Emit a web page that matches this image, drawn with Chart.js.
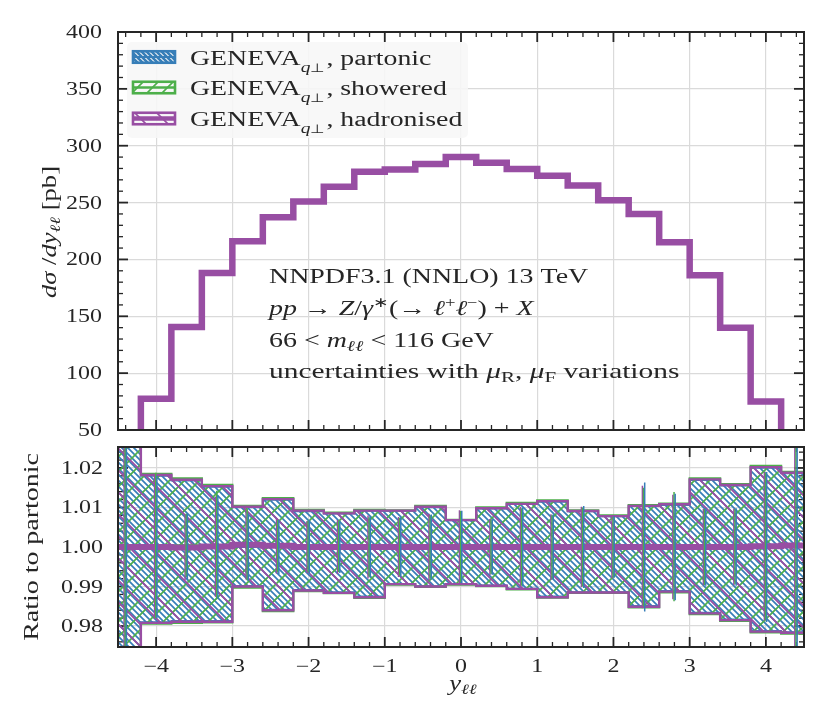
<!DOCTYPE html>
<html><head><meta charset="utf-8">
<script src="https://cdn.jsdelivr.net/npm/chart.js@4.4.1/dist/chart.umd.min.js"></script>
<style>
html,body{margin:0;padding:0;background:#fff;}
#wrap{position:relative;width:830px;height:720px;overflow:hidden;}
#top{position:absolute;left:0;top:0;width:830px;height:440px;}
#bot{position:absolute;left:0;top:440px;width:830px;height:280px;}
</style></head><body>
<div id="wrap"><div id="top"><canvas id="c1"></canvas></div><div id="bot"><canvas id="c2"></canvas></div></div>
<script>
// ---------------- data ----------------
const binEdges = [-4.6,-4.2,-3.8,-3.4,-3.0,-2.6,-2.2,-1.8,-1.4,-1.0,-0.6,-0.2,0.2,0.6,1.0,1.4,1.8,2.2,2.6,3.0,3.4,3.8,4.2,4.6];
const xTickValues = [-4,-3,-2,-1,0,1,2,3,4];
const xTickLabels = ['\u22124','\u22123','\u22122','\u22121','0','1','2','3','4'];
const yTopTicks = [50,100,150,200,250,300,350,400];
const yTopLabels = ['50','100','150','200','250','300','350','400'];
const yRatioTicks = [0.98,0.99,1.00,1.01,1.02];
const yRatioLabels = ['0.98','0.99','1.00','1.01','1.02'];
const seriesNames = ['partonic','showered','hadronised'];

// d sigma / dy [pb]
const partonicXS   = [10,77.5,141.5,188,216.5,237.5,251,264,277,279,284,290,285,279.5,273.5,265,252,241,216,186,140.5,75,10];
const showeredXS   = [10,77.5,142,188,216,237,251,264,277,279,284,290,285,279.5,273.5,265,252,240.5,215.5,186,140,75,10];
const hadronisedXS = [10,77.5,140.5,188,216,237,251,264,277,279,284,290,285,279.5,273.5,265,252,240,215,186,140,75,10];

// ratio to partonic: scale-variation envelopes
const partonicUp   = [1.040,1.0180,1.0168,1.0152,1.0100,1.0119,1.0090,1.0084,1.0091,1.0091,1.0100,1.0067,1.0097,1.0108,1.0114,1.0090,1.0077,1.0103,1.0106,1.0169,1.0155,1.0200,1.0186];
const partonicDn   = [0.960,0.9810,0.9813,0.9813,0.9902,0.9842,0.9892,0.9886,0.9875,0.9907,0.9901,0.9907,0.9903,0.9895,0.9875,0.9886,0.9886,0.9851,0.9889,0.9834,0.9817,0.9788,0.9785];
const showeredUp   = [1.040,1.0185,1.0174,1.0157,1.0104,1.0124,1.0094,1.0087,1.0094,1.0093,1.0104,1.0069,1.0100,1.0112,1.0118,1.0093,1.0080,1.0106,1.0110,1.0174,1.0159,1.0205,1.0190];
const showeredDn   = [0.960,0.9806,0.9808,0.9809,0.9897,0.9838,0.9888,0.9883,0.9871,0.9905,0.9899,0.9905,0.9901,0.9893,0.9872,0.9884,0.9884,0.9847,0.9885,0.9830,0.9813,0.9784,0.9781];
const hadronisedUp = [1.040,1.0182,1.0170,1.0154,1.0102,1.0121,1.0092,1.0085,1.0092,1.0092,1.0102,1.0068,1.0098,1.0109,1.0116,1.0091,1.0078,1.0104,1.0108,1.0171,1.0157,1.0202,1.0188];
const hadronisedDn = [0.960,0.9808,0.9811,0.9811,0.9900,0.9840,0.9890,0.9884,0.9873,0.9906,0.9900,0.9906,0.9902,0.9894,0.9873,0.9885,0.9885,0.9849,0.9887,0.9832,0.9815,0.9786,0.9783];

// central ratios
const partonicRatio   = [1,1,1,1,1,1,1,1,1,1,1,1,1,1,1,1,1,1,1,1,1,1,1];
const showeredRatio   = [1.0000,1.0004,1.0004,1.0005,1.0006,1.0002,1.0001,1.0001,1.0000,1.0001,1.0000,1.0001,1.0000,1.0000,1.0001,1.0000,1.0000,1.0000,1.0001,1.0000,1.0001,1.0002,1.0003];
const hadronisedRatio = [1.0000,1.0000,0.9999,1.0001,1.0006,1.0003,1.0000,1.0000,1.0000,1.0000,1.0000,1.0000,1.0000,1.0000,1.0000,1.0000,1.0000,1.0000,1.0000,1.0000,1.0000,1.0002,1.0004];

// statistical half-errors on the ratio
const partonicErr   = [0.03,0.0180,0.0085,0.0130,0.0085,0.0068,0.0068,0.0066,0.0078,0.0075,0.0082,0.0092,0.0070,0.0100,0.0082,0.0104,0.0078,0.0163,0.0135,0.0098,0.0098,0.0190,0.03];
const showeredErr   = [0.03,0.0184,0.0080,0.0137,0.0090,0.0066,0.0065,0.0064,0.0075,0.0073,0.0080,0.0090,0.0068,0.0098,0.0080,0.0100,0.0076,0.0150,0.0138,0.0096,0.0095,0.0186,0.03];
const hadronisedErr = [0.03,0.0182,0.0083,0.0127,0.0088,0.0070,0.0066,0.0068,0.0080,0.0076,0.0084,0.0093,0.0071,0.0102,0.0083,0.0102,0.0079,0.0155,0.0132,0.0097,0.0097,0.0188,0.03];

// ---------------- style ----------------
const C_BLUE = '#377eb8', C_GREEN = '#4daf4a', C_PURPLE = '#984ea3';
const INK = '#262626', GRID = '#dadada';
const SX = 1.33;
const SERIF = '"Liberation Serif","Times New Roman",serif';
function F(size, it){ return (it ? 'italic ' : '') + size + 'px ' + SERIF; }
function P(t, size, it, dy){ return {t:t, f:F(size,it), dy:dy||0}; }

function drawParts(ctx, parts, x, y, align, rotate, sx){
  ctx.save();
  ctx.translate(x, y);
  if (rotate) ctx.rotate(-Math.PI/2);
  ctx.scale(sx || SX, 1);
  ctx.textBaseline = 'alphabetic'; ctx.textAlign = 'left'; ctx.fillStyle = INK;
  let w = 0;
  for (const p of parts){ ctx.font = p.f; p.w = ctx.measureText(p.t).width; w += p.w; }
  let cx = align === 'right' ? -w : (align === 'center' ? -w/2 : 0);
  for (const p of parts){ ctx.font = p.f; ctx.fillText(p.t, cx, p.dy); cx += p.w; }
  ctx.restore();
}

function makeHatch(ctx, color, s, dir, lw){
  const c = document.createElement('canvas'); c.width = s; c.height = s;
  const g = c.getContext('2d'); g.strokeStyle = color; g.lineWidth = lw;
  g.beginPath();
  if (dir === '/'){
    g.moveTo(-2, s+2); g.lineTo(s+2, -2);
    g.moveTo(-2, 2); g.lineTo(2, -2);
    g.moveTo(s-2, s+2); g.lineTo(s+2, s-2);
  } else {
    g.moveTo(-2, -2); g.lineTo(s+2, s+2);
    g.moveTo(s-2, -2); g.lineTo(s+2, 2);
    g.moveTo(-2, s-2); g.lineTo(2, s+2);
  }
  g.stroke();
  return ctx.createPattern(c, 'repeat');
}

function stepPoints(vals){
  const pts = vals.map((v,i) => ({x: binEdges[i], y: v}));
  pts.push({x: binEdges[binEdges.length-1], y: vals[vals.length-1]});
  return pts;
}
function errPoints(center, err, off){
  const pts = [];
  for (let i = 0; i < center.length; i++){
    const xc = (binEdges[i] + binEdges[i+1]) / 2 + off;
    pts.push({x: xc, y: center[i] - err[i]}, {x: xc, y: center[i] + err[i]}, {x: xc, y: null});
  }
  return pts;
}

function drawTicksFrame(chart, yMajor, yMinorStep, yMin, yMax, phase){
  const {ctx, chartArea:a, scales:{x, y}} = chart;
  ctx.save();
  if (phase === 'ticks'){
    ctx.strokeStyle = INK;
    const seg = (x1,y1,x2,y2,w)=>{ ctx.lineWidth = w; ctx.beginPath(); ctx.moveTo(x1,y1); ctx.lineTo(x2,y2); ctx.stroke(); };
    for (let k = -22; k <= 22; k++){
      const v = k * 0.2; if (v < -4.5 || v > 4.5) continue;
      const major = (k % 5 === 0);
      const px = x.getPixelForValue(v), L = major ? 10 : 5, w = major ? 1.8 : 1.3;
      seg(px, a.bottom, px, a.bottom - L, w); seg(px, a.top, px, a.top + L, w);
    }
    const n = Math.round((yMax - yMin) / yMinorStep);
    for (let k = 0; k <= n; k++){
      const v = yMin + k * yMinorStep;
      const major = yMajor.some(m => Math.abs(m - v) < yMinorStep * 0.01);
      const py = y.getPixelForValue(v), L = major ? 10 : 5, w = major ? 1.8 : 1.3;
      seg(a.left, py, a.left + L, py, w); seg(a.right, py, a.right - L, py, w);
    }
  } else {
    ctx.strokeStyle = INK; ctx.lineWidth = 2;
    ctx.strokeRect(a.left, a.top, a.right - a.left, a.bottom - a.top);
  }
  ctx.restore();
}

function baseOptions(ymin, ymax, yTicks, pad){
  return {
    responsive: true, maintainAspectRatio: false, animation: false, events: [],
    layout: {padding: pad, autoPadding: false},
    plugins: {legend: {display: false}, tooltip: {enabled: false}},
    elements: {point: {radius: 0, hoverRadius: 0}, line: {tension: 0, borderJoinStyle: 'miter', borderCapStyle: 'butt'}},
    scales: {
      x: {type: 'linear', min: -4.5, max: 4.5,
          afterBuildTicks: s => { s.ticks = xTickValues.map(v => ({value: v})); },
          afterFit: s => { s.height = 0; },
          ticks: {display: false}, grid: {color: GRID, lineWidth: 1.2, drawTicks: false}, border: {display: false}},
      y: {type: 'linear', min: ymin, max: ymax,
          afterBuildTicks: s => { s.ticks = yTicks.map(v => ({value: v})); },
          afterFit: s => { s.width = 0; },
          ticks: {display: false}, grid: {color: GRID, lineWidth: 1.2, drawTicks: false}, border: {display: false}}
    }
  };
}

// ---------------- top panel ----------------
const ctx1 = document.getElementById('c1').getContext('2d');
const legBlue = makeHatch(ctx1, C_BLUE, 5, '\\', 2.6);
const legGreen = makeHatch(ctx1, C_GREEN, 15, '/', 1.6);
const legPurple = makeHatch(ctx1, C_PURPLE, 22, '\\', 1.6);

const topPlugin = {
  id: 'topDeco',
  beforeDatasetsDraw(chart){ drawTicksFrame(chart, yTopTicks, 10, 50, 400, 'ticks'); },
  afterDatasetsDraw(chart){ drawTicksFrame(chart, yTopTicks, 10, 50, 400, 'frame'); },
  afterDraw(chart){
    const {ctx, scales:{y}} = chart;
    yTopTicks.forEach((v,i) => drawParts(ctx, [P(yTopLabels[i], 18)], 102, y.getPixelForValue(v) + 6, 'right'));
    drawParts(ctx, [P('d\u03c3', 20, true), P(' /', 20), P('dy', 20, true), P('\u2113\u2113', 14, true, 4), P(' [pb]', 20)], 56, 232, 'center', true);
    // annotation
    const ax = 269;
    drawParts(ctx, [P('NNPDF3.1 (NNLO) 13 TeV', 21)], ax, 283);
    drawParts(ctx, [P('pp', 21, true), P(' \u2192 ', 21), P('Z', 21, true), P('/', 21), P('\u03b3', 21, true), P('\u2217', 14, false, -8),
                    P('(\u2192 ', 21), P('\u2113', 21, true), P('+', 14, false, -8), P('\u2113', 21, true), P('\u2212', 14, false, -8), P(') + ', 21), P('X', 21, true)], ax, 315);
    drawParts(ctx, [P('66 < ', 21), P('m', 21, true), P('\u2113\u2113', 15, true, 4), P(' < 116 GeV', 21)], ax, 347);
    drawParts(ctx, [P('uncertainties with ', 21), P('\u03bc', 21, true), P('R', 15, false, 4), P(', ', 21), P('\u03bc', 21, true), P('F', 15, false, 4), P(' variations', 21)], ax, 378, 'left', false, 1.4);
    // legend
    ctx.save();
    ctx.fillStyle = 'rgba(247,247,247,0.88)';
    ctx.beginPath(); ctx.roundRect(127, 42, 341, 96, 5); ctx.fill();
    ctx.restore();
    const rows = [
      {c: C_BLUE, p: legBlue, lw: 2, y: 57, name: seriesNames[0]},
      {c: C_GREEN, p: legGreen, lw: 2.5, y: 87.5, name: seriesNames[1]},
      {c: C_PURPLE, p: legPurple, lw: 4.5, y: 118.5, name: seriesNames[2]}
    ];
    rows.forEach(r => {
      ctx.save();
      const x0 = 133, w = 42, h = 11.5, y0 = r.y - h/2;
      ctx.fillStyle = r.p; ctx.fillRect(x0, y0, w, h);
      ctx.strokeStyle = r.c; ctx.lineWidth = 2.6; ctx.strokeRect(x0, y0, w, h);
      ctx.lineWidth = r.lw; ctx.beginPath(); ctx.moveTo(x0, r.y); ctx.lineTo(x0 + w, r.y); ctx.stroke();
      ctx.restore();
      drawParts(ctx, [P('GENEVA', 20), P('q', 14, true, 7), P('\u22a5', 12, false, 7), P(' ', 6), P(', ' + r.name, 20)], 190, r.y + 7.5, 'left', false, 1.39);
    });
  }
};

const topLine = (vals, color, w) => ({data: stepPoints(vals), borderColor: color, borderWidth: w, stepped: true, fill: false, clip: 0, pointRadius: 0});
new Chart(ctx1, {
  type: 'line',
  data: {datasets: [topLine(hadronisedXS, C_PURPLE, 6.5), topLine(showeredXS, C_GREEN, 3), topLine(partonicXS, C_BLUE, 3)]},
  options: baseOptions(50, 400, yTopTicks, {left: 118, right: 26, top: 32, bottom: 10}),
  plugins: [topPlugin]
});

// ---------------- ratio panel ----------------
const ctx2 = document.getElementById('c2').getContext('2d');
const hBlue = makeHatch(ctx2, C_BLUE, 6, '\\', 1.7);
const hGreen = makeHatch(ctx2, C_GREEN, 15, '/', 1.6);
const hPurple = makeHatch(ctx2, C_PURPLE, 22, '\\', 1.7);

const RMIN = 0.9747, RMAX = 1.0253;
const botPlugin = {
  id: 'botDeco',
  beforeDatasetsDraw(chart){ drawTicksFrame(chart, yRatioTicks, 0.002, 0.976, 1.024, 'ticks'); },
  afterDatasetsDraw(chart){ drawTicksFrame(chart, yRatioTicks, 0.002, 0.976, 1.024, 'frame'); },
  afterDraw(chart){
    const {ctx, scales:{x, y}} = chart;
    yRatioTicks.forEach((v,i) => drawParts(ctx, [P(yRatioLabels[i], 18)], 103, y.getPixelForValue(v) + 6, 'right'));
    xTickValues.forEach((v,i) => drawParts(ctx, [P(xTickLabels[i], 18)], x.getPixelForValue(v), 232, 'center'));
    drawParts(ctx, [P('y', 20, true), P('\u2113\u2113', 14, true, 4)], 463, 250, 'center');
    drawParts(ctx, [P('Ratio to partonic', 21)], 38, 107, 'center', true);
  }
};

const band = (up, dn, color, pat, bw) => ([
  {data: stepPoints(up), borderColor: color, borderWidth: bw, stepped: true, fill: false, clip: 0},
  {data: stepPoints(dn), borderColor: color, borderWidth: bw, stepped: true, fill: '-1', backgroundColor: pat, clip: 0}
]);
const central = (vals, color, w) => ({data: stepPoints(vals), borderColor: color, borderWidth: w, stepped: true, fill: false, clip: 0});
const errs = (c, e, color, off) => ({data: errPoints(c, e, off), borderColor: color, borderWidth: 1.5, stepped: false, fill: false, spanGaps: false, clip: 0});

const ratioSets = [].concat(
  band(partonicUp, partonicDn, C_BLUE, hBlue, 1.6),
  band(showeredUp, showeredDn, C_GREEN, hGreen, 2.2),
  band(hadronisedUp, hadronisedDn, C_PURPLE, hPurple, 2.4),
  [central(partonicRatio, C_BLUE, 2), central(showeredRatio, C_GREEN, 2.2), central(hadronisedRatio, C_PURPLE, 6)],
  [errs(hadronisedRatio, hadronisedErr, C_PURPLE, -0.02), errs(showeredRatio, showeredErr, C_GREEN, -0.005), errs(partonicRatio, partonicErr, C_BLUE, 0.01)]
);
ratioSets.forEach((d, i) => { d.order = 100 - i; d.pointRadius = 0; });

new Chart(ctx2, {
  type: 'line',
  data: {datasets: ratioSets},
  options: baseOptions(RMIN, RMAX, yRatioTicks, {left: 118, right: 26, top: 7, bottom: 73}),
  plugins: [botPlugin]
});
</script>
</body></html>
